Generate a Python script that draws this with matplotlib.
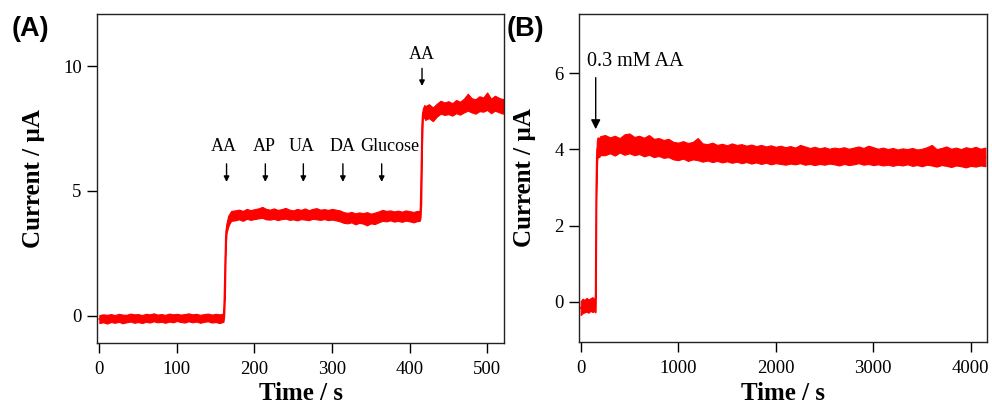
import numpy as np
import matplotlib
matplotlib.use("Agg")
import matplotlib.pyplot as plt

# ---------------- Panel A data (band envelope) ----------------
t_a_base = [0, 5, 10, 15, 20, 25, 30, 35, 40, 45, 50, 55, 60, 65, 70, 75, 80, 85, 90, 95,
            100, 105, 110, 115, 120, 125, 130, 135, 140, 145, 150, 155]
hi_a_base = [0.02, 0.05, 0.03, 0.06, 0.02, 0.07, 0.04, 0.03, 0.08, 0.05, 0.06, 0.02, 0.07, 0.05,
             0.09, 0.04, 0.06, 0.03, 0.08, 0.05, 0.07, 0.04, 0.06, 0.09, 0.05, 0.07, 0.03, 0.06,
             0.08, 0.04, 0.07, 0.05]
lo_a_base = [-0.30, -0.27, -0.32, -0.26, -0.29, -0.25, -0.31, -0.27, -0.24, -0.29, -0.26, -0.30,
             -0.25, -0.28, -0.23, -0.27, -0.25, -0.29, -0.24, -0.27, -0.22, -0.26, -0.28, -0.23,
             -0.27, -0.24, -0.29, -0.25, -0.23, -0.28, -0.26, -0.30]

t_a_step1 = [158, 160, 161, 162, 163, 164, 166, 168, 170]
hi_a_step1 = [0.06, 0.10, 0.8, 2.5, 3.4, 3.7, 4.0, 4.1, 4.2]
lo_a_step1 = [-0.27, -0.25, 0.0, 1.0, 2.8, 3.3, 3.55, 3.7, 3.8]

t_a_plat1 = [175, 180, 185, 190, 195, 200, 205, 210, 215, 220, 225, 230, 235, 240, 245, 250,
             255, 260, 265, 270, 275, 280, 285, 290, 295, 300, 305, 310, 315, 320, 325, 330,
             335, 340, 345, 350, 355, 360, 365, 370, 375, 380, 385, 390, 395, 400, 405, 410]
hi_a_plat1 = [4.22, 4.25, 4.20, 4.28, 4.23, 4.27, 4.30, 4.36, 4.28, 4.25, 4.30, 4.24, 4.27, 4.32,
              4.25, 4.22, 4.28, 4.24, 4.30, 4.23, 4.28, 4.31, 4.25, 4.27, 4.24, 4.28, 4.25, 4.22,
              4.15, 4.12, 4.16, 4.10, 4.14, 4.11, 4.15, 4.09, 4.13, 4.18, 4.24, 4.20, 4.22, 4.18,
              4.21, 4.17, 4.22, 4.19, 4.16, 4.20]
lo_a_plat1 = [3.82, 3.86, 3.80, 3.88, 3.84, 3.87, 3.90, 3.92, 3.86, 3.85, 3.88, 3.83, 3.87, 3.89,
              3.84, 3.86, 3.82, 3.87, 3.85, 3.83, 3.88, 3.86, 3.84, 3.87, 3.83, 3.85, 3.82, 3.78,
              3.72, 3.70, 3.74, 3.66, 3.72, 3.69, 3.62, 3.70, 3.67, 3.74, 3.80, 3.78, 3.82, 3.77,
              3.80, 3.76, 3.81, 3.78, 3.74, 3.79]

t_a_step2 = [413, 414, 415, 416, 417, 419]
hi_a_step2 = [4.18, 4.5, 6.5, 8.1, 8.3, 8.45]
lo_a_step2 = [3.80, 3.9, 4.5, 6.8, 7.9, 7.95]

t_a_plat2 = [420, 425, 430, 435, 440, 445, 450, 455, 460, 465, 470, 475, 480, 485, 490, 495,
             500, 505, 510, 515, 520, 522]
hi_a_plat2 = [8.40, 8.48, 8.35, 8.50, 8.62, 8.55, 8.60, 8.52, 8.65, 8.58, 8.70, 8.90, 8.72, 8.68,
              8.80, 8.75, 8.95, 8.70, 8.82, 8.74, 8.68, 8.72]
lo_a_plat2 = [7.85, 7.92, 7.80, 7.98, 8.10, 8.05, 8.08, 8.02, 8.12, 8.06, 8.15, 8.22, 8.15, 8.10,
              8.20, 8.18, 8.25, 8.12, 8.22, 8.16, 8.10, 8.20]

a_labels = ["AA", "AP", "UA", "DA", "Glucose"]
a_arrow_times = [164, 214, 263, 314, 364]
a_label_times = [161, 213, 261, 313, 375]
a_last_label = "AA"
a_last_time = 416

# ---------------- Panel B data ----------------
t_b_base = [0, 20, 40, 60, 80, 100, 120, 140, 150, 153, 156, 160, 165, 170, 180, 190, 200]
hi_b_base = [0.02, 0.08, 0.05, 0.10, 0.06, 0.09, 0.12, 0.08, 0.10, 0.6, 2.6, 3.6, 4.2, 4.3,
             4.32, 4.28, 4.35]
lo_b_base = [-0.35, -0.30, -0.28, -0.26, -0.29, -0.24, -0.27, -0.25, -0.28, -0.25, 0.5, 2.5,
             3.4, 3.75, 3.82, 3.80, 3.85]

hi_b_plat = [4.38, 4.32, 4.36, 4.30, 4.40, 4.42, 4.33, 4.36, 4.31, 4.38, 4.28, 4.30, 4.25, 4.28,
             4.20, 4.18, 4.22, 4.17, 4.20, 4.30, 4.16, 4.14, 4.18, 4.12, 4.15, 4.11, 4.16, 4.12,
             4.14, 4.10, 4.13, 4.09, 4.12, 4.08, 4.11, 4.07, 4.10, 4.06, 4.09, 4.05, 4.12, 4.08,
             4.04, 4.07, 4.03, 4.06, 4.02, 4.05, 4.03, 4.06, 4.02, 4.05, 4.08, 4.04, 4.10, 4.06,
             4.02, 4.05, 4.01, 4.04, 4.00, 4.03, 4.01, 4.04, 4.00, 4.02, 4.06, 4.12, 4.01, 4.04,
             4.08, 4.02, 4.05, 4.01, 4.06, 4.03, 4.07, 4.02, 4.05]
lo_b_plat = [3.85, 3.90, 3.84, 3.92, 3.86, 3.90, 3.85, 3.88, 3.82, 3.86, 3.80, 3.83, 3.78, 3.80,
             3.74, 3.72, 3.76, 3.70, 3.74, 3.72, 3.68, 3.71, 3.67, 3.70, 3.66, 3.69, 3.65, 3.68,
             3.64, 3.67, 3.63, 3.66, 3.62, 3.65, 3.61, 3.64, 3.62, 3.60, 3.63, 3.61, 3.64, 3.60,
             3.62, 3.59, 3.62, 3.60, 3.63, 3.61, 3.58, 3.62, 3.59, 3.61, 3.64, 3.60, 3.62, 3.59,
             3.61, 3.58, 3.60, 3.57, 3.60, 3.58, 3.61, 3.57, 3.59, 3.56, 3.60, 3.58, 3.55, 3.59,
             3.57, 3.54, 3.58, 3.56, 3.53, 3.57, 3.55, 3.58, 3.56]
t_b_plat = list(np.arange(250, 4151, 50))

b_label = "0.3 mM AA"
b_label_time = 154

xticks_a = [0, 100, 200, 300, 400, 500]
yticks_a = [0, 5, 10]
xticks_b = [0, 1000, 2000, 3000, 4000]
yticks_b = [0, 2, 4, 6]

# ---------------- assemble ----------------
t_a = np.array(t_a_base + t_a_step1 + t_a_plat1 + t_a_step2 + t_a_plat2, float)
hi_a = np.array(hi_a_base + hi_a_step1 + hi_a_plat1 + hi_a_step2 + hi_a_plat2)
lo_a = np.array(lo_a_base + lo_a_step1 + lo_a_plat1 + lo_a_step2 + lo_a_plat2)
t_b = np.array(t_b_base + t_b_plat, float)
hi_b = np.array(hi_b_base + hi_b_plat)
lo_b = np.array(lo_b_base + lo_b_plat)
assert len(t_a) == len(hi_a) == len(lo_a)
assert len(t_b) == len(hi_b) == len(lo_b), (len(t_b), len(hi_b), len(lo_b))

serif = ["Liberation Serif", "DejaVu Serif"]
RED = "#ff0000"

fig = plt.figure(figsize=(9.92, 4.03), dpi=100)
axA = fig.add_axes([0.0978, 0.1489, 0.4105, 0.8164])
axB = fig.add_axes([0.5837, 0.1521, 0.4116, 0.8132])

def style(ax, xt, yt, xlab_y, ylab_x):
    ax.set_xticks(xt)
    ax.set_yticks(yt)
    ax.tick_params(direction="out", length=7, width=1, labelsize=13.5, pad=4)
    ax.tick_params(axis="x", pad=6)
    for lab in ax.get_xticklabels() + ax.get_yticklabels():
        lab.set_fontfamily(serif)
    for s in ax.spines.values():
        s.set_linewidth(1.0)
        s.set_color("#222222")
    ax.set_xlabel("Time / s", family=serif, fontweight="bold", fontsize=18)
    ax.set_ylabel("Current / µA", family=serif, fontweight="bold", fontsize=18)
    ax.xaxis.set_label_coords(0.5, xlab_y)
    ax.yaxis.set_label_coords(ylab_x, 0.5)

# Panel A
axA.fill_between(t_a, lo_a, hi_a, color=RED, linewidth=0.8, edgecolor=RED)
axA.plot(t_a, (hi_a + lo_a) / 2, color=RED, lw=1.2)
axA.set_xlim(-3, 522)
axA.set_ylim(-1.1, 12.1)
style(axA, xticks_a, yticks_a, -0.118, -0.128)
for lab, tl, ta in zip(a_labels, a_label_times, a_arrow_times):
    axA.text(tl, 6.78, lab, family=serif, fontsize=13, ha="center", va="center")
    axA.annotate("", xy=(ta, 5.25), xytext=(ta, 6.2),
                 arrowprops=dict(arrowstyle="-|>", color="black", lw=1, mutation_scale=8))
axA.text(a_last_time, 10.47, a_last_label, family=serif, fontsize=13, ha="center", va="center")
axA.annotate("", xy=(a_last_time, 9.1), xytext=(a_last_time, 10.03),
             arrowprops=dict(arrowstyle="-|>", color="black", lw=1, mutation_scale=8))

# Panel B
axB.fill_between(t_b, lo_b, hi_b, color=RED, linewidth=0.8, edgecolor=RED)
axB.plot(t_b, (hi_b + lo_b) / 2, color=RED, lw=1.2)
axB.set_xlim(-17, 4170)
axB.set_ylim(-1.05, 7.56)
style(axB, xticks_b, yticks_b, -0.122, -0.105)
axB.text(65, 6.3, b_label, family=serif, fontsize=14.5, ha="left", va="center")
axB.annotate("", xy=(b_label_time, 4.46), xytext=(b_label_time, 5.96),
             arrowprops=dict(arrowstyle="-|>", color="black", lw=1, mutation_scale=14))

fig.text(12 / 992, 1 - 29 / 403, "(A)", family=["Liberation Sans", "DejaVu Sans"],
         fontweight="bold", fontsize=19.5, ha="left", va="center")
fig.text(507 / 992, 1 - 29 / 403, "(B)", family=["Liberation Sans", "DejaVu Sans"],
         fontweight="bold", fontsize=19.5, ha="left", va="center")

fig.savefig("out.png", dpi=100)
